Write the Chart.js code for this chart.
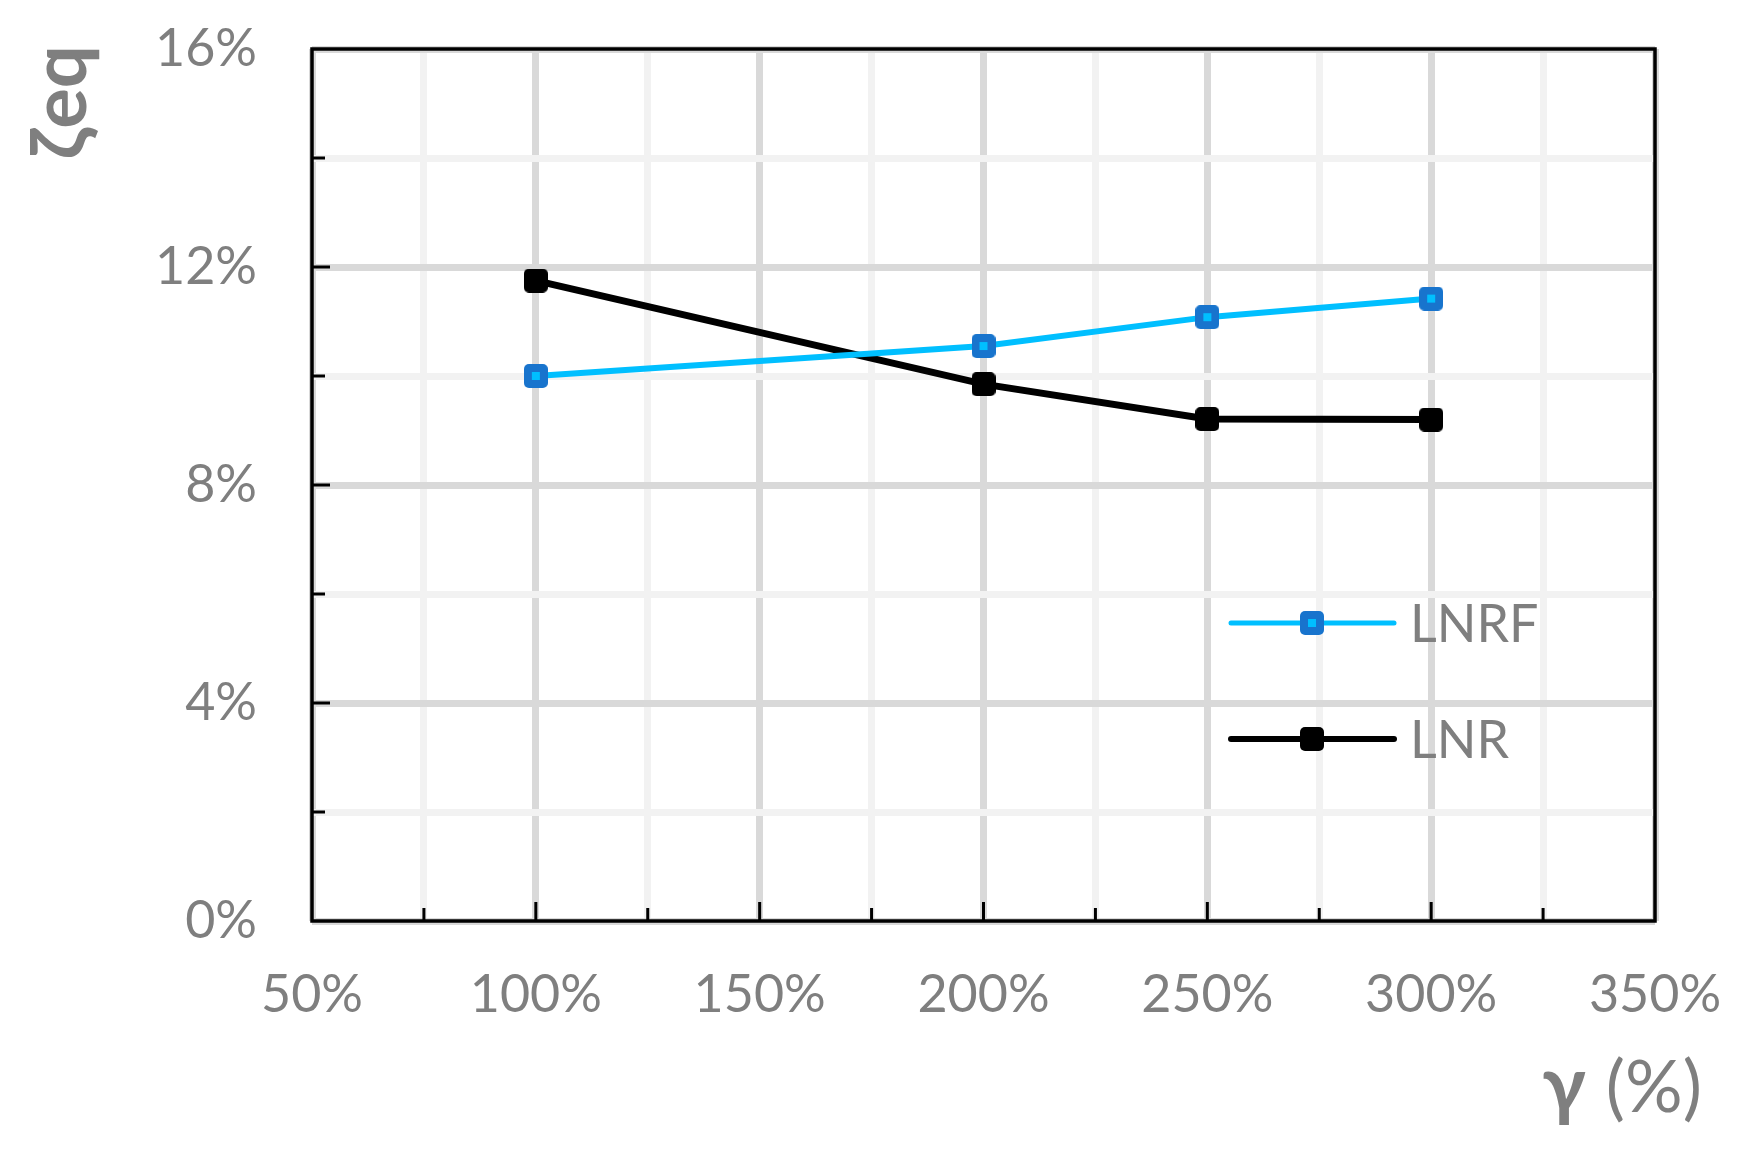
<!DOCTYPE html>
<html>
<head>
<meta charset="utf-8">
<script src="https://cdn.jsdelivr.net/npm/chart.js@4.4.1/dist/chart.umd.min.js"></script>
<style>
  html, body { margin: 0; padding: 0; background: #fff; }
  #wrap { width: 1737px; height: 1152px; }
</style>
</head>
<body>
<div id="wrap"><canvas id="myChart" width="1737" height="1152"></canvas></div>
<script>
// setup
const gammaValues = [100, 200, 250, 300];
const lnrfValues = [10.0, 10.55, 11.08, 11.42];
const lnrValues = [11.75, 9.85, 9.21, 9.2];
const seriesNames = ['LNRF', 'LNR'];
const xTickLabels = [50, 100, 150, 200, 250, 300, 350];
const yTickLabels = [0, 4, 8, 12, 16];

const grey = '#7F7F7F';
const fontFamily = "Lato, 'Open Sans', 'Noto Sans', sans-serif";

// small rounded square markers, drawn once and reused by points and legend
function makeMarker(border, fill) {
    const c = document.createElement('canvas');
    c.width = 24;
    c.height = 24;
    const g = c.getContext('2d');
    g.fillStyle = border;
    g.beginPath();
    g.roundRect(0, 0, 24, 24, 5);
    g.fill();
    if (fill) {
        g.fillStyle = fill;
        g.fillRect(8, 8, 8, 8);
    }
    return c;
}

const lnrfMarker = makeMarker('#1874CD', '#00BFFF');
const lnrMarker = makeMarker('#000000', null);

const data = {
    datasets: [{
            label: seriesNames[0],
            data: gammaValues.map((g, i) => ({ x: g, y: lnrfValues[i] })),
            borderColor: '#00BFFF',
            backgroundColor: '#00BFFF',
            borderWidth: 6,
            pointStyle: lnrfMarker,
            pointRadius: 12,
            tension: 0
        },
        {
            label: seriesNames[1],
            data: gammaValues.map((g, i) => ({ x: g, y: lnrValues[i] })),
            borderColor: '#000000',
            backgroundColor: '#000000',
            borderWidth: 7,
            pointStyle: lnrMarker,
            pointRadius: 12,
            tension: 0
        }
    ]
};

// frame, inner tick marks, titles and legend
const decorations = {
    id: 'decorations',
    beforeDatasetsDraw(chart) {
        const { ctx, chartArea: a, scales: { x, y } } = chart;
        ctx.save();
        ctx.strokeStyle = '#000';
        ctx.lineWidth = 3.5;
        ctx.strokeRect(a.left, a.top, a.right - a.left, a.bottom - a.top);

        ctx.lineWidth = 3;
        ctx.beginPath();
        x.ticks.forEach(t => {
            if (t.value <= x.min || t.value >= x.max) return;
            const px = x.getPixelForValue(t.value);
            const len = xTickLabels.includes(t.value) ? 19 : 13;
            ctx.moveTo(px, a.bottom);
            ctx.lineTo(px, a.bottom - len);
        });
        y.ticks.forEach(t => {
            if (t.value <= y.min || t.value >= y.max) return;
            const py = y.getPixelForValue(t.value);
            const len = yTickLabels.includes(t.value) ? 18 : 13;
            ctx.moveTo(a.left, py);
            ctx.lineTo(a.left + len, py);
        });
        ctx.stroke();
        ctx.restore();
    },
    afterDraw(chart) {
        const { ctx } = chart;
        ctx.save();
        ctx.fillStyle = grey;

        // y title, rotated, at the top
        ctx.save();
        ctx.translate(86, 45);
        ctx.rotate(-Math.PI / 2);
        ctx.font = 'bold 76px ' + fontFamily;
        ctx.textAlign = 'right';
        ctx.textBaseline = 'alphabetic';
        ctx.fillText('ζeq', 0, 0);
        ctx.restore();

        // x title at bottom right
        ctx.textBaseline = 'alphabetic';
        ctx.textAlign = 'right';
        ctx.font = '72px ' + fontFamily;
        ctx.fillText('(%)', 1702, 1112);
        const w = ctx.measureText('(%)').width;
        ctx.font = 'bold 78px ' + fontFamily;
        ctx.fillText('γ', 1702 - w - 20, 1112);

        // legend inside the plot
        const markers = [lnrfMarker, lnrMarker];
        chart.data.datasets.forEach((ds, i) => {
            const ly = 623 + i * 116;
            ctx.strokeStyle = ds.borderColor;
            ctx.lineWidth = ds.borderWidth - 1;
            ctx.lineCap = 'round';
            ctx.beginPath();
            ctx.moveTo(1231, ly);
            ctx.lineTo(1394, ly);
            ctx.stroke();
            ctx.drawImage(markers[i], 1312 - 12, ly - 12);
            ctx.fillStyle = grey;
            ctx.font = '52px ' + fontFamily;
            ctx.textAlign = 'left';
            ctx.textBaseline = 'middle';
            ctx.fillText(ds.label, 1410, ly + 2);
        });
        ctx.restore();
    }
};

// config
const config = {
    type: 'line',
    data,
    plugins: [decorations],
    options: {
        responsive: false,
        animation: false,
        devicePixelRatio: 1,
        layout: {
            padding: { left: 0, top: 49, right: 82, bottom: 0 }
        },
        plugins: {
            legend: { display: false },
            tooltip: { enabled: false }
        },
        scales: {
            x: {
                type: 'linear',
                min: 50,
                max: 350,
                afterFit: s => {
                    s.height = 231;
                    s.paddingLeft = 0;
                    s.paddingRight = 0;
                },
                border: { display: false },
                grid: {
                    drawTicks: false,
                    lineWidth: 7,
                    color: c => xTickLabels.includes(c.tick.value) ? '#D9D9D9' : '#F2F2F2'
                },
                ticks: {
                    stepSize: 25,
                    autoSkip: false,
                    maxRotation: 0,
                    padding: 43,
                    color: grey,
                    font: { family: fontFamily, size: 52 },
                    callback: v => xTickLabels.includes(v) ? v + '%' : ''
                }
            },
            y: {
                min: 0,
                max: 16,
                afterFit: s => {
                    s.width = 312;
                    s.paddingTop = 0;
                    s.paddingBottom = 0;
                },
                border: { display: false },
                grid: {
                    drawTicks: false,
                    lineWidth: 7,
                    color: c => yTickLabels.includes(c.tick.value) ? '#D9D9D9' : '#F2F2F2'
                },
                ticks: {
                    stepSize: 2,
                    autoSkip: false,
                    padding: 55,
                    color: grey,
                    font: { family: fontFamily, size: 52 },
                    callback: v => yTickLabels.includes(v) ? v + '%' : ''
                }
            }
        }
    }
};

// render init block
const myChart = new Chart(
    document.getElementById('myChart'),
    config
);
</script>
</body>
</html>
